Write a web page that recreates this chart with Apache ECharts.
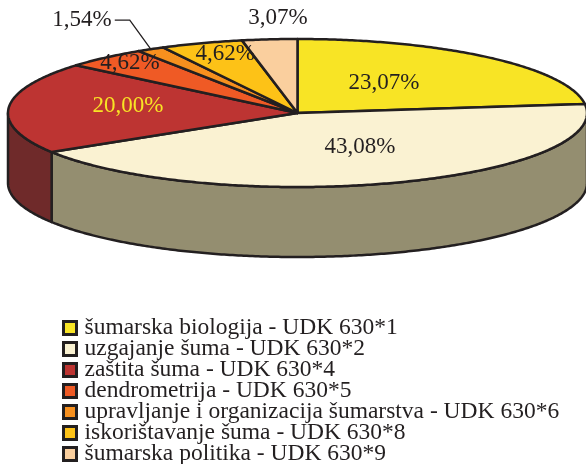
<!DOCTYPE html>
<html>
<head>
<meta charset="utf-8">
<script src="https://cdn.jsdelivr.net/npm/echarts@6/dist/echarts.min.js"></script>
<style>html,body{margin:0;padding:0;background:#fff}#c{width:586px;height:464px}</style>
</head>
<body>
<div id="c"></div>
<script>
// ---- data ----
const categories = [
  'šumarska biologija - UDK 630*1',
  'uzgajanje šuma - UDK 630*2',
  'zaštita šuma - UDK 630*4',
  'dendrometrija - UDK 630*5',
  'upravljanje i organizacija šumarstva - UDK 630*6',
  'iskorištavanje šuma - UDK 630*8',
  'šumarska politika - UDK 630*9'
];
const values = [23.07, 43.08, 20.00, 4.62, 1.54, 4.62, 3.07];

// ---- styles ----
const topColors = ['#F8E425', '#FAF2D2', '#BD3432', '#EF5A25', '#F7901E', '#FDC217', '#FACF9E'];
const wallColors = ['#8F8420', '#948E70', '#6F2A2A', '#8A3414', '#8F5512', '#937010', '#927A5C'];
const labelColors = ['#231F20', '#231F20', '#F8E425', '#231F20', '#231F20', '#231F20', '#231F20'];
// label placement as [radial factor x, radial factor y]; null = leader line label
const labelFactors = [[0.45, 0.55], [0.65, 0.49], [0.587, 1.245], [0.873, 0.905], null, [0.754, 0.842], [0.703, 1.287]];
const OUT = '#231F20';
const geo = { cx: 297.5, cy: 113, a: 289.5, b: 74, depth: 70 };

const total = values.reduce((s, v) => s + v, 0);
const starts = [];
let acc = 0;
values.forEach(v => { starts.push(acc); acc += v; });

function pt(theta, dy) {
  return [geo.cx + geo.a * Math.sin(theta), geo.cy - geo.b * Math.cos(theta) + (dy || 0)];
}
function arcPts(t1, t2, dy) {
  const n = Math.max(2, Math.ceil(Math.abs(t2 - t1) / 0.01));
  const out = [];
  for (let i = 0; i <= n; i++) out.push(pt(t1 + (t2 - t1) * i / n, dy));
  return out;
}
function fmt(v) { return v.toFixed(2).replace('.', ',') + '%'; }

function makeRender(idx) {
  return function (params, api) {
    const v = api.value(0), s = api.value(1);
    const t1 = s / total * 2 * Math.PI;
    const t2 = (s + v) / total * 2 * Math.PI;
    const children = [];
    // wall (front half only)
    const w1 = Math.max(t1, Math.PI / 2), w2 = Math.min(t2, Math.PI * 1.5);
    if (w2 > w1) {
      const topEdge = arcPts(w1, w2, 0);
      const botEdge = arcPts(w2, w1, geo.depth);
      children.push({
        type: 'polygon', z2: 1,
        shape: { points: topEdge.concat(botEdge) },
        style: { fill: wallColors[idx], stroke: OUT, lineWidth: 2.5, lineJoin: 'round' }
      });
    }
    // top face
    const pts = [[geo.cx, geo.cy]].concat(arcPts(t1, t2, 0));
    children.push({
      type: 'polygon', z2: 2,
      shape: { points: pts },
      style: { fill: topColors[idx], stroke: OUT, lineWidth: 2.5, lineJoin: 'round' }
    });
    // label
    const tm = (t1 + t2) / 2;
    const f = labelFactors[idx];
    if (f) {
      children.push({
        type: 'text', z2: 100,
        x: geo.cx + geo.a * Math.sin(tm) * f[0],
        y: geo.cy - geo.b * Math.cos(tm) * f[1],
        style: { text: fmt(v), fill: labelColors[idx], font: '23px "Liberation Serif"', align: 'center', verticalAlign: 'middle' }
      });
    } else {
      const e = pt(tm, 0);
      const elbow = [e[0] - 21, e[1] - 29];
      const end = [elbow[0] - 15, elbow[1]];
      children.push({
        type: 'polyline', z2: 100,
        shape: { points: [e, elbow, end] },
        style: { stroke: OUT, lineWidth: 1.3, fill: null }
      });
      children.push({
        type: 'text', z2: 100,
        x: end[0] - 3, y: end[1],
        style: { text: fmt(v), fill: labelColors[idx], font: '23px "Liberation Serif"', align: 'right', verticalAlign: 'middle' }
      });
    }
    return { type: 'group', children: children };
  };
}

const series = categories.map((name, i) => ({
  type: 'custom',
  name: name,
  coordinateSystem: 'none',
  renderItem: makeRender(i),
  itemStyle: { color: topColors[i] },
  data: [[values[i], starts[i]]],
  silent: true,
  animation: false
}));

const chart = echarts.init(document.getElementById('c'), null, { renderer: 'canvas' });
chart.setOption({
  animation: false,
  legend: {
    orient: 'vertical',
    left: 62, top: 316, height: 200,
    padding: 0,
    itemWidth: 13, itemHeight: 13, itemGap: -3,
    icon: 'rect',
    selectedMode: false,
    itemStyle: { borderColor: OUT, borderWidth: 3 },
    textStyle: { fontFamily: 'Liberation Serif', fontSize: 23.5, color: OUT, lineHeight: 21, padding: [0, 0, 0, 3] },
    data: categories
  },
  series: series
});
</script>
</body>
</html>
